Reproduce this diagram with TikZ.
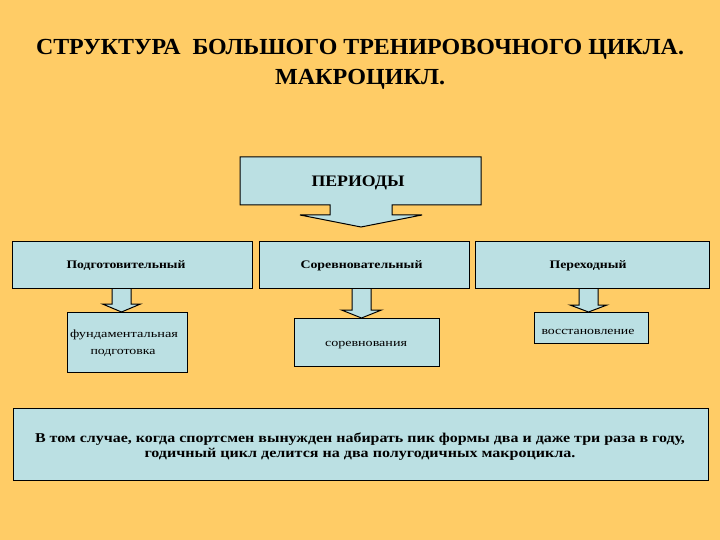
\documentclass[tikz,border=0pt]{standalone}
\usepackage{fontspec}
\setmainfont{Liberation Serif}
\usepackage{graphicx}
\newlength\fitlen
\newcommand\fitx[2]{\settowidth{\fitlen}{#2}\pgfmathsetmacro\fitsx{#1/\fitlen}\scalebox{\fitsx}[1]{#2}}
\definecolor{bgc}{RGB}{255,204,102}
\definecolor{boxc}{RGB}{187,224,227}
\tikzset{
  box/.style={draw=black, fill=boxc, line width=1pt, line join=miter},
  rect/.style={box, inner sep=0pt, anchor=north west},
  lbl/.style={anchor=base, inner sep=0pt},
  titlef/.style={font=\fontsize{23}{27}\selectfont\bfseries},
  headf/.style={font=\fontsize{16}{19}\selectfont\bfseries},
  rowf/.style={font=\fontsize{11.5}{14}\selectfont\bfseries},
  smallf/.style={font=\fontsize{11}{13}\selectfont},
  notef/.style={font=\fontsize{13.5}{16}\selectfont\bfseries}
}
% block arrow: x, ytop, ystem, ytip, halfstem, halfhead
\newcommand\blockarrow[6]{%
  \filldraw[box] (#1-#5,#2) -- (#1-#5,#3) -- (#1-#6,#3) -- (#1,#4) -- (#1+#6,#3) -- (#1+#5,#3) -- (#1+#5,#2);}
\begin{document}
\begin{tikzpicture}[x=1pt,y=-1pt]
\fill[bgc] (0,0) rectangle (720,540);
\useasboundingbox (0,0) rectangle (720,540);

% title
\node[lbl, titlef] (t1) at (360,54.5) {\fitx{648}{СТРУКТУРА\ \ БОЛЬШОГО ТРЕНИРОВОЧНОГО ЦИКЛА.}};
\node[lbl, titlef] (t2) at (360,85) {\fitx{170}{МАКРОЦИКЛ.}};

% periods callout
\filldraw[box] (240,157) -- (481,157) -- (481,205) -- (392,205) -- (392,215) -- (422,215)
  -- (361,227) -- (300,215) -- (330,215) -- (330,205) -- (240,205) -- cycle;
\node[lbl, headf] (periods) at (358,186.5) {\fitx{93}{ПЕРИОДЫ}};

% arrows from row boxes
\blockarrow{121.5}{287}{304}{312}{9.5}{19}
\blockarrow{361.5}{287}{310}{318}{9.5}{20}
\blockarrow{588.5}{287}{305}{312}{9.5}{18.5}

% row boxes
\node[rect, minimum width=240pt, minimum height=47pt] (prep) at (12,240.5) {};
\node[rect, minimum width=210pt, minimum height=47pt] (comp) at (259,240.5) {};
\node[rect, minimum width=234pt, minimum height=47pt] (trans) at (475,240.5) {};
\node[lbl, rowf] (prepL) at (126,268.5) {\fitx{119}{Подготовительный}};
\node[lbl, rowf] (compL) at (361.5,268.5) {\fitx{122}{Соревновательный}};
\node[lbl, rowf] (transL) at (588,268.5) {\fitx{77}{Переходный}};

% sub boxes
\node[rect, minimum width=120pt, minimum height=60pt] (fund) at (66.5,312) {};
\node[lbl, smallf] (fundA) at (124,337) {\fitx{108}{фундаментальная}};
\node[lbl, smallf] (fundB) at (123,354) {\fitx{65}{подготовка}};
\node[rect, minimum width=145pt, minimum height=48pt] (sor) at (294,318) {};
\node[lbl, smallf] (sorL) at (366,346.5) {\fitx{82}{соревнования}};
\node[rect, minimum width=114pt, minimum height=31pt] (vos) at (534,312) {};
\node[lbl, smallf] (vosL) at (588,334) {\fitx{93}{восстановление}};

% note box
\node[rect, minimum width=695.5pt, minimum height=72pt] (note) at (12.5,408) {};
\node[lbl, notef] (noteA) at (360,442) {\fitx{650}{В том случае, когда спортсмен вынужден набирать пик формы два и даже три раза в году,}};
\node[lbl, notef] (noteB) at (360,457) {\fitx{431}{годичный цикл делится на два полугодичных макроцикла.}};
\end{tikzpicture}
\end{document}
